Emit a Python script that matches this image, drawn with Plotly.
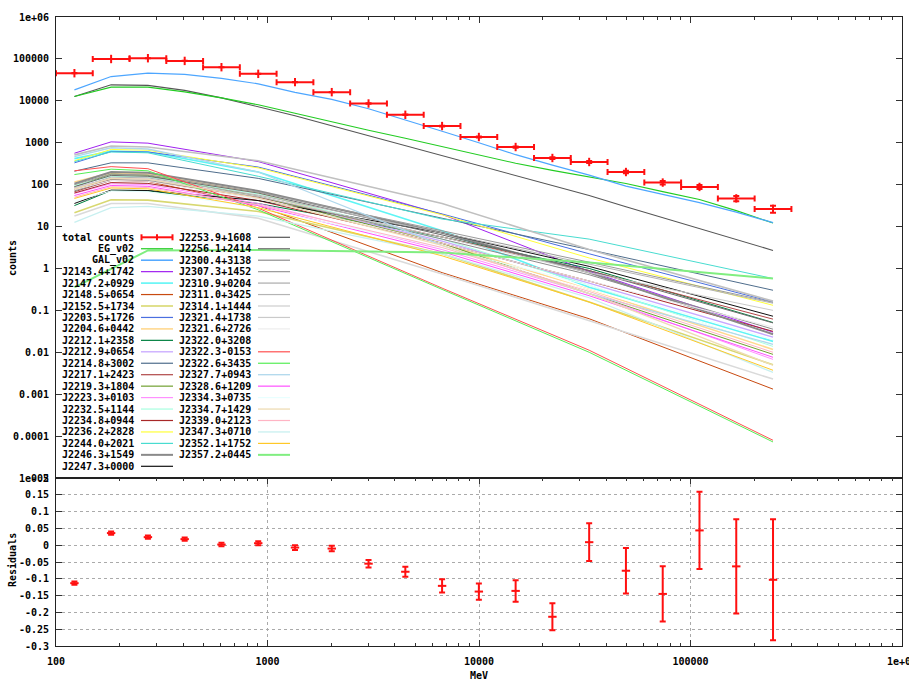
import plotly.graph_objects as go

# ---------------- data ----------------
bin_lo = [100, 149.2, 222.7, 332.3, 495.9, 740.0, 1104, 1648, 2459, 3670,
          5477, 8173, 12197, 18202, 27162, 40534, 60489, 90268, 134707, 201022]
bin_hi = [149.2, 222.7, 332.3, 495.9, 740.0, 1104, 1648, 2459, 3670, 5477,
          8173, 12197, 18202, 27162, 40534, 60489, 90268, 134707, 201022, 300000]
energy = [122.2, 182.2, 272.0, 405.9, 605.8, 904, 1349, 2013, 3004, 4484,
          6691, 9985, 14900, 22236, 33183, 49519, 73898, 110275, 164566, 245576]

total_counts = [45600, 99500, 104000, 89600, 63400, 44000, 27900, 16100, 8630, 4640,
                2500, 1370, 790, 432, 347, 200, 112, 88, 47, 26.4]
total_err = [214, 315, 322, 299, 252, 210, 167, 127, 93, 68,
             50, 37, 28, 21, 18.6, 14.1, 10.6, 9.4, 6.9, 5.1]

eg_counts = [12650, 21180, 21180, 16370, 11780, 8035, 5035, 3126, 1986, 1274,
             804, 509, 324, 219, 150, 106, 68.1, 44.0, 24.0, 12.1]
gal_counts = [18280, 37930, 45600, 42760, 34360, 25410, 15920, 10860, 6457, 3532,
              1879, 1000, 518, 291, 168, 92.0, 57.8, 37.2, 22.1, 12.4]
bright_name = "J2253.9+1608"
bright_counts = [12650, 24040, 23390, 17780, 11750, 7244, 4395, 2541, 1469, 857,
                 495, 285, 165, 95.7, 55.3, 29.6, 16.3, 8.95, 4.90, 2.69]

residuals = [-0.113, 0.036, 0.024, 0.018, 0.002, 0.006, -0.007, -0.010, -0.055, -0.079,
             -0.121, -0.138, -0.136, -0.213, 0.009, -0.076, -0.145, 0.044, -0.063, -0.103]
residual_err = [0.005, 0.005, 0.005, 0.005, 0.005, 0.006, 0.007, 0.008, 0.011, 0.015,
                0.020, 0.024, 0.032, 0.040, 0.056, 0.068, 0.082, 0.115, 0.140, 0.180]

# point sources: model counts at a subset of the bin energies
node_energy = [122.2, 182.2, 272.0, 904, 6691, 33183, 245576]
source_names = [
    "J2143.4+1742", "J2147.2+0929", "J2148.5+0654", "J2152.5+1734", "J2203.5+1726",
    "J2204.6+0442", "J2212.1+2358", "J2212.9+0654", "J2214.8+3002", "J2217.1+2423",
    "J2219.3+1804", "J2223.3+0103", "J2232.5+1144", "J2234.8+0944", "J2236.2+2828",
    "J2244.0+2021", "J2246.3+1549", "J2247.3+0000",
    "J2256.1+2414", "J2300.4+3138", "J2307.3+1452", "J2310.9+0204", "J2311.0+3425",
    "J2314.1+1444", "J2321.4+1738", "J2321.6+2726", "J2322.0+3208", "J2322.3-0153",
    "J2322.6+3435", "J2327.7+0943", "J2328.6+1209", "J2334.3+0735", "J2334.7+1429",
    "J2339.0+2123", "J2347.3+0710", "J2352.1+1752", "J2357.2+0445",
]
source_counts = [
    [562, 1047, 977, 355, 19.5, 0.851, 0.0302],
    [417, 631, 603, 200, 7.94, 0.355, 0.0182],
    [75.9, 132, 120, 31.6, 0.794, 0.0631, 0.00132],
    [21.4, 43.7, 42.7, 22.9, 2.24, 0.158, 0.00501],
    [331, 617, 603, 263, 20.0, 2.24, 0.158],
    [115, 191, 178, 63.1, 3.98, 0.316, 0.0117],
    [31.6, 72.4, 70.8, 35.5, 5.62, 1.0, 0.0513],
    [85.1, 141, 135, 50.1, 4.47, 0.447, 0.0229],
    [209, 331, 331, 141, 15.8, 2.82, 0.302],
    [67.6, 126, 120, 50.1, 5.62, 0.891, 0.0617],
    [89.1, 178, 166, 52.5, 3.98, 0.251, 0.00891],
    [61.7, 105, 100, 35.5, 2.82, 0.251, 0.00676],
    [95.5, 158, 151, 60.3, 5.01, 0.398, 0.0138],
    [63.1, 112, 107, 41.7, 3.98, 0.501, 0.0316],
    [372, 692, 661, 251, 19.1, 1.78, 0.132],
    [355, 603, 575, 158, 15.1, 5.01, 0.575],
    [105, 200, 191, 70.8, 7.08, 0.794, 0.0269],
    [35.5, 74.1, 72.4, 41.7, 7.08, 1.12, 0.0724],
    [89.1, 166, 158, 63.1, 6.31, 0.891, 0.0501],
    [70.8, 132, 126, 52.5, 5.01, 0.708, 0.0355],
    [100, 178, 170, 66.1, 7.94, 1.41, 0.155],
    [513, 832, 794, 372, 35.5, 2.82, 0.166],
    [79.4, 151, 145, 56.2, 7.08, 1.26, 0.148],
    [17.8, 35.5, 35.5, 15.8, 0.741, 0.0562, 0.00229],
    [85.1, 141, 132, 52.5, 5.62, 0.794, 0.100],
    [75.9, 126, 120, 45.7, 3.98, 0.501, 0.0398],
    [50.1, 89.1, 85.1, 31.6, 3.16, 0.316, 0.0158],
    [214, 269, 240, 27.5, 0.339, 0.0112, 0.0000794],
    [174, 234, 214, 25.1, 0.316, 0.0100, 0.0000724],
    [468, 759, 708, 200, 3.55, 0.251, 0.0155],
    [55.0, 95.5, 91.2, 31.6, 2.51, 0.224, 0.00759],
    [39.8, 70.8, 67.6, 28.2, 3.16, 0.398, 0.0200],
    [79.4, 141, 135, 47.9, 3.55, 0.251, 0.00490],
    [50.1, 89.1, 85.1, 33.1, 3.16, 0.282, 0.0100],
    [12.6, 28.2, 30.2, 17.8, 2.24, 0.200, 0.00331],
    [46.8, 83.2, 79.4, 28.2, 2.00, 0.158, 0.00372],
    [0.355, 0.977, 2.69, 2.75, 2.40, 1.38, 0.575],
]

x_tick_vals = [100, 1000, 10000, 100000, 1000000]
x_tick_text = ["100", "1000", "10000", "100000", "1e+06"]
y_tick_vals = [1e-5, 1e-4, 1e-3, 1e-2, 1e-1, 1, 10, 100, 1000, 10000, 100000, 1000000]
y_tick_text = ["1e-05", "0.0001", "0.001", "0.01", "0.1", "1", "10", "100", "1000",
               "10000", "100000", "1e+06"]
r_tick_vals = [-0.3, -0.25, -0.2, -0.15, -0.1, -0.05, 0, 0.05, 0.1, 0.15, 0.2]
r_tick_text = ["-0.3", "-0.25", "-0.2", "-0.15", "-0.1", "-0.05", "0", "0.05", "0.1", "0.15", "0.2"]

# ---------------- styles ----------------
EG_COLOR = "#22cc22"
GAL_COLOR = "#4da6ff"
BRIGHT_COLOR = "#555555"
DATA_COLOR = "#ff1010"
source_colors = [
    "#a020f0", "#5ef5f5", "#c84a10", "#d8d870", "#4a6fe0",
    "#ffd890", "#008040", "#c8a8ff", "#4f6d8c", "#b04848",
    "#70a030", "#ff90ff", "#a8ffe0", "#a82828", "#ffff38",
    "#48dcd0", "#8a8a8a", "#111111",
    "#6c6c6c", "#8c8c8c", "#9a9a9a", "#c0c0c0", "#b4b4b4",
    "#dadada", "#cacaca", "#ececec", "#ffffff", "#ff5050",
    "#55ee55", "#b0d8ec", "#ff50ff", "#e8ffff", "#eedcb4",
    "#ffb4c4", "#c8f0f0", "#ffc828", "#80ee80",
]
source_widths = [
    1, 1.6, 1, 1.6, 1,
    1.6, 1, 1.3, 1, 1,
    1, 1, 1, 1, 1,
    1, 2, 1,
    1, 1, 1, 1.6, 1,
    1.6, 1, 1, 1, 1,
    1, 1.3, 1, 1, 1.3,
    1, 1.3, 1, 2,
]

FONT = "DejaVu Sans Mono"
W, H = 909, 681
L, R, T, B = 56, 902, 17, 646
SPLIT = 478


def px(x):
    return (x - L) / (R - L)


def py(y):
    return (B - y) / (B - T)


fig = go.Figure()

# point source curves
for name, vals, col, wd in zip(source_names, source_counts, source_colors, source_widths):
    fig.add_trace(go.Scatter(x=node_energy, y=vals, mode="lines", name=name,
                             line=dict(color=col, width=wd), showlegend=False,
                             xaxis="x", yaxis="y"))

fig.add_trace(go.Scatter(x=energy, y=bright_counts, mode="lines", name=bright_name,
                         line=dict(color=BRIGHT_COLOR, width=1.1), showlegend=False))
fig.add_trace(go.Scatter(x=energy, y=eg_counts, mode="lines", name="EG_v02",
                         line=dict(color=EG_COLOR, width=1.1), showlegend=False))
fig.add_trace(go.Scatter(x=energy, y=gal_counts, mode="lines", name="GAL_v02",
                         line=dict(color=GAL_COLOR, width=1.2), showlegend=False))

# total counts with bin widths
fig.add_trace(go.Scatter(
    x=energy, y=total_counts, mode="markers", name="total counts", showlegend=False,
    marker=dict(symbol="line-ns", size=6, line=dict(color=DATA_COLOR, width=2), color=DATA_COLOR),
    error_x=dict(type="data", symmetric=False,
                 array=[h - e for h, e in zip(bin_hi, energy)],
                 arrayminus=[e - l for e, l in zip(energy, bin_lo)],
                 color=DATA_COLOR, thickness=2, width=3),
    error_y=dict(type="data", array=total_err, color=DATA_COLOR, thickness=2, width=3),
))

# residuals
fig.add_trace(go.Scatter(
    x=energy, y=residuals, mode="markers", name="Residuals", showlegend=False,
    xaxis="x2", yaxis="y2",
    marker=dict(symbol="line-ew", size=6, line=dict(color=DATA_COLOR, width=2), color=DATA_COLOR),
    error_y=dict(type="data", array=residual_err, color=DATA_COLOR, thickness=2, width=3),
))

minor_vals = [m * 10 ** d for d in range(2, 6) for m in range(2, 10)]
tickfont = dict(family=FONT, size=10, color="#000000", weight="bold")
axis_line = dict(showline=True, linecolor="#222222", linewidth=1, automargin=False)
split_frac = (B - SPLIT) / (B - T)

fig.update_layout(
    width=W, height=H, autosize=False,
    margin=dict(l=L, r=W - R, t=T, b=H - B, pad=0, autoexpand=False),
    paper_bgcolor="white", plot_bgcolor="white",
    showlegend=False,
    xaxis=dict(type="log", range=[2, 6], side="top", anchor="y",
               tickmode="array", tickvals=x_tick_vals, showticklabels=False,
               ticks="inside", ticklen=6, tickcolor="#333333", mirror=True,
               minor=dict(tickmode="array", tickvals=minor_vals, ticks="inside",
                          ticklen=3, tickcolor="#333333", showgrid=False),
               showgrid=False, zeroline=False, **axis_line),
    yaxis=dict(type="log", range=[-5, 6], domain=[split_frac, 1], anchor="x",
               tickmode="array", tickvals=y_tick_vals, ticktext=y_tick_text,
               ticks="inside", ticklen=6, tickcolor="#333333", mirror="ticks",
               tickfont=tickfont, ticklabelstandoff=4, ticklabeloverflow="allow",
               showgrid=False, zeroline=False, **axis_line),
    xaxis2=dict(type="log", range=[2, 6], anchor="y2", matches="x",
                tickmode="array", tickvals=x_tick_vals, ticktext=x_tick_text,
                ticks="inside", ticklen=6, tickcolor="#333333", mirror="ticks",
                minor=dict(tickmode="array", tickvals=minor_vals, ticks="inside",
                           ticklen=3, tickcolor="#333333", showgrid=False),
                tickfont=tickfont, ticklabelstandoff=6, ticklabeloverflow="allow",
                showgrid=True, gridcolor="#aaaaaa", griddash="dot", gridwidth=1,
                zeroline=False, **axis_line),
    yaxis2=dict(range=[-0.3, 0.2], domain=[0, split_frac], anchor="x2",
                tickmode="array", tickvals=r_tick_vals, ticktext=r_tick_text,
                ticks="inside", ticklen=6, tickcolor="#333333", mirror="ticks",
                tickfont=tickfont, ticklabelstandoff=4, ticklabeloverflow="allow",
                showgrid=True, gridcolor="#aaaaaa", griddash="dot", gridwidth=1,
                zeroline=False, **axis_line),
)

annotations = []
shapes = []
lab_font = dict(family=FONT, size=10, color="#000000")


def text(x, y, s, anchor="center", angle=0):
    annotations.append(dict(x=px(x), y=py(y), xref="paper", yref="paper", text="<b>%s</b>" % s,
                            showarrow=False, xanchor=anchor, yanchor="middle",
                            textangle=angle, font=lab_font))


def seg(x0, y0, x1, y1, color, width):
    shapes.append(dict(type="line", xref="paper", yref="paper", x0=px(x0), y0=py(y0),
                       x1=px(x1), y1=py(y1), line=dict(color=color, width=width)))


# axis titles
text(12, 258, "counts", angle=-90)
text(12, 560, "Residuals", angle=-90)
text(479, 675, "MeV")

# hand-built two-column key, as in the original
row0, dy = 237.3, 11.45
left_entries = [("total counts", DATA_COLOR, 2), ("EG_v02", EG_COLOR, 1.2), ("GAL_v02", GAL_COLOR, 1.5)]
n_left = 18
left_entries += list(zip(source_names[:n_left], source_colors[:n_left], source_widths[:n_left]))
right_entries = [(bright_name, BRIGHT_COLOR, 1.1)]
right_entries += list(zip(source_names[n_left:], source_colors[n_left:], source_widths[n_left:]))

for k, (nm, col, wd) in enumerate(left_entries):
    yy = row0 + dy * k
    text(136, yy, nm, anchor="right")
    seg(141, yy, 173, yy, col, max(wd, 1.2))
    if k == 0:
        for xc in (141.5, 157, 172.5):
            seg(xc, yy - 3, xc, yy + 3, col, 2)
for k, (nm, col, wd) in enumerate(right_entries):
    yy = row0 + dy * k
    text(177, yy, nm, anchor="left")
    seg(258, yy, 290, yy, col, max(wd, 1.2))

fig.update_layout(annotations=annotations, shapes=shapes)
fig.write_html("out.html")
